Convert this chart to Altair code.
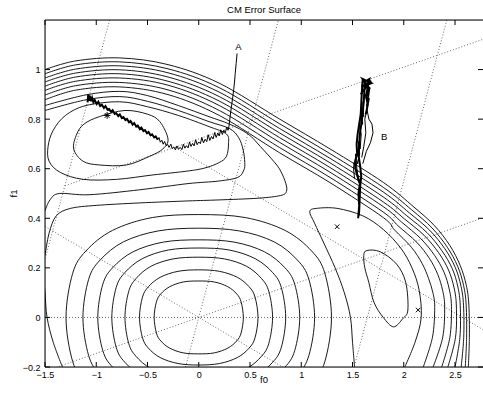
import altair as alt
import pandas as pd

# ---------------- text & axes ----------------
title_text = "CM Error Surface"
x_title = "f0"
y_title = "f1"
x_domain = [-1.5, 2.773]
y_domain = [-0.2, 1.2]
x_ticks = [-1.5, -1.0, -0.5, 0.0, 0.5, 1.0, 1.5, 2.0, 2.5]
y_ticks = [-0.2, 0.0, 0.2, 0.4, 0.6, 0.8, 1.0]

# ---------------- closed contours (f0, f1) ----------------
ring_r1 = [(0.435,0),(0.413,0.063),(0.37,0.095),(0.283,0.124),(0.152,0.143),(0,0.147),(-0.152,0.143),(-0.283,0.124),(-0.37,0.095),(-0.413,0.063),(-0.435,0),(-0.413,-0.063),(-0.37,-0.095),(-0.283,-0.124),(-0.152,-0.143),(0,-0.147),(0.152,-0.143),(0.283,-0.124),(0.37,-0.095),(0.413,-0.063)]
ring_r2 = [(0.578,0),(0.549,0.082),(0.491,0.124),(0.376,0.162),(0.202,0.186),(0,0.192),(-0.202,0.186),(-0.376,0.162),(-0.491,0.124),(-0.549,0.082),(-0.578,0),(-0.549,-0.082),(-0.491,-0.124),(-0.376,-0.162),(-0.202,-0.186),(0,-0.192),(0.202,-0.186),(0.376,-0.162),(0.491,-0.124),(0.549,-0.082)]
ring_r3 = [(0.72,0),(0.684,0.104),(0.612,0.157),(0.468,0.206),(0.252,0.236),(0,0.243),(-0.252,0.236),(-0.468,0.206),(-0.612,0.157),(-0.684,0.104),(-0.72,0),(-0.684,-0.104),(-0.612,-0.157),(-0.468,-0.206),(-0.252,-0.236),(0,-0.243),(0.252,-0.236),(0.468,-0.206),(0.612,-0.157),(0.684,-0.104)]
ring_r4 = [(0.848,0),(0.806,0.12),(0.721,0.181),(0.551,0.237),(0.297,0.272),(0,0.28),(-0.297,0.272),(-0.551,0.237),(-0.721,0.181),(-0.806,0.12),(-0.848,0),(-0.806,-0.12),(-0.721,-0.181),(-0.551,-0.237),(-0.297,-0.272),(0,-0.28),(0.297,-0.272),(0.551,-0.237),(0.721,-0.181),(0.806,-0.12)]
ring_r5 = [(0.985,0),(0.936,0.134),(0.837,0.202),(0.64,0.265),(0.345,0.304),(0,0.313),(-0.345,0.304),(-0.64,0.265),(-0.837,0.202),(-0.936,0.134),(-0.985,0),(-0.936,-0.134),(-0.837,-0.202),(-0.64,-0.265),(-0.345,-0.304),(0,-0.313),(0.345,-0.304),(0.64,-0.265),(0.837,-0.202),(0.936,-0.134)]
ring_r6 = [(1.13,0),(1.074,0.154),(0.961,0.232),(0.735,0.305),(0.396,0.349),(0,0.36),(-0.396,0.349),(-0.735,0.305),(-0.961,0.232),(-1.074,0.154),(-1.13,0),(-1.074,-0.154),(-0.961,-0.232),(-0.735,-0.305),(-0.396,-0.349),(0,-0.36),(0.396,-0.349),(0.735,-0.305),(0.961,-0.232),(1.074,-0.154)]
ring_r7 = [(1.295,0),(1.23,0.178),(1.101,0.268),(0.842,0.351),(0.453,0.403),(0,0.415),(-0.453,0.403),(-0.842,0.351),(-1.101,0.268),(-1.23,0.178),(-1.295,0),(-1.23,-0.178),(-1.101,-0.268),(-0.842,-0.351),(-0.453,-0.403),(0,-0.415),(0.453,-0.403),(0.842,-0.351),(1.101,-0.268),(1.23,-0.178)]
ring_m1 = [(-1.22,0.68),(-1.19,0.74),(-1.12,0.78),(-0.97,0.81),(-0.72,0.835),(-0.5,0.82),(-0.38,0.79),(-0.30,0.72),(-0.35,0.68),(-0.48,0.65),(-0.706,0.615),(-0.966,0.615),(-1.128,0.63)]
ring_m2 = [(-1.46,0.63),(-1.35,0.585),(-1.128,0.557),(-0.803,0.557),(-0.446,0.575),(-0.12,0.59),(0.06,0.603),(0.2,0.625),(0.27,0.65),(0.29,0.70),(0.27,0.74),(0.1,0.77),(-0.2,0.815),(-0.5,0.85),(-0.77,0.87),(-1.1,0.855),(-1.3,0.815),(-1.42,0.755),(-1.47,0.69)]
ring_rm = [(1.61,0.25),(1.64,0.27),(1.77,0.265),(1.93,0.215),(2.02,0.14),(2.04,0.03),(1.99,-0.005),(1.90,-0.038),(1.80,0.0),(1.71,0.06),(1.66,0.14),(1.62,0.2)]

# ---------------- open contours (f0, f1) ----------------
wall_l0 = [(-1.5,1.0),(-1.2,1.035),(-0.77,1.047),(-0.3,1.02),(0.2,0.945),(0.79,0.80),(1.28,0.68),(1.8,0.545),(2.1,0.445),(2.3,0.37),(2.45,0.29),(2.55,0.21),(2.61,0.13),(2.635,0.05),(2.64,-0.08),(2.63,-0.2)]
wall_l1 = [(-1.5,0.983),(-1.2,1.019),(-0.77,1.031),(-0.3,1.003),(0.2,0.927),(0.79,0.781),(1.28,0.661),(1.8,0.525),(2.077,0.434),(2.276,0.361),(2.425,0.283),(2.526,0.206),(2.584,0.128),(2.609,0.049),(2.613,-0.08),(2.60,-0.2)]
wall_l2 = [(-1.5,0.966),(-1.2,1.002),(-0.77,1.015),(-0.3,0.987),(0.2,0.909),(0.79,0.762),(1.28,0.642),(1.8,0.506),(2.054,0.422),(2.252,0.352),(2.401,0.277),(2.502,0.202),(2.559,0.125),(2.583,0.048),(2.585,-0.08),(2.56,-0.2)]
wall_l3 = [(-1.5,0.95),(-1.2,0.986),(-0.77,0.999),(-0.3,0.97),(0.2,0.891),(0.79,0.744),(1.28,0.624),(1.8,0.486),(2.03,0.41),(2.227,0.342),(2.372,0.269),(2.473,0.197),(2.528,0.123),(2.551,0.047),(2.548,-0.08),(2.50,-0.2)]
wall_l4 = [(-1.5,0.933),(-1.2,0.97),(-0.77,0.983),(-0.3,0.953),(0.2,0.873),(0.79,0.725),(1.28,0.605),(1.8,0.466),(2.005,0.398),(2.199,0.331),(2.34,0.261),(2.437,0.191),(2.491,0.119),(2.513,0.046),(2.505,-0.08),(2.43,-0.2)]
wall_l5 = [(-1.5,0.916),(-1.2,0.953),(-0.77,0.966),(-0.3,0.937),(0.2,0.855),(0.79,0.706),(1.28,0.586),(1.8,0.447),(1.978,0.385),(2.166,0.318),(2.301,0.25),(2.392,0.183),(2.443,0.115),(2.465,0.045),(2.45,-0.08),(2.37,-0.2)]
wall_l6 = [(-1.5,0.897),(-1.2,0.935),(-0.77,0.948),(-0.3,0.918),(0.2,0.835),(0.79,0.685),(1.28,0.565),(1.8,0.425),(1.946,0.369),(2.127,0.303),(2.252,0.237),(2.332,0.173),(2.379,0.109),(2.399,0.043),(2.38,-0.08),(2.286,-0.2)]
wall_l7 = [(-1.5,0.878),(-1.2,0.917),(-0.77,0.93),(-0.3,0.899),(0.2,0.815),(0.79,0.664),(1.28,0.544),(1.8,0.403),(1.912,0.352),(2.075,0.283),(2.18,0.217),(2.242,0.157),(2.284,0.1),(2.302,0.04),(2.28,-0.08),(2.19,-0.2)]
knee_l8 = [(-1.5,0.25),(-1.46,0.34),(-1.39,0.41),(-1.25,0.44),(-1.0,0.452),(-0.576,0.462),(-0.104,0.47),(0.189,0.474),(0.579,0.481),(0.80,0.492),(0.855,0.508),(0.85,0.54),(0.80,0.59),(0.741,0.625),(0.6,0.69),(0.481,0.74),(0.3,0.78),(0.1,0.81),(-0.2,0.855),(-0.5,0.895),(-0.77,0.912),(-1.1,0.898),(-1.5,0.855)]
band_l9 = [(-1.5,0.43),(-1.45,0.475),(-1.36,0.5),(-1.07,0.495),(-0.576,0.515),(-0.104,0.54),(0.19,0.55),(0.38,0.565),(0.44,0.595),(0.449,0.625),(0.433,0.676),(0.39,0.725),(0.30,0.762),(0.1,0.79),(-0.2,0.835),(-0.5,0.872),(-0.77,0.891),(-1.1,0.878),(-1.5,0.835)]
edge_l8 = [(-1.52,0.2),(-1.50,0.1),(-1.48,0.0),(-1.42,-0.1),(-1.33,-0.2)]
tip_l8 = [(1.52,-0.2),(1.50,-0.1),(1.48,0.0),(1.42,0.1),(1.33,0.2),(1.22,0.3),(1.13,0.38),(1.083,0.427),(1.15,0.44),(1.35,0.44),(1.6,0.41),(1.8,0.355),(1.97,0.28),(2.08,0.2),(2.15,0.11),(2.17,0.0),(2.11,-0.1),(2.01,-0.2)]

# ---------------- dotted guide lines (end points) ----------------
guide_h0 = [(-1.5,0.0),(2.78,0.0)]
guide_a0 = [(-1.5,0.3675),(2.78,-0.681)]
guide_a1 = [(-0.23,0.686),(2.78,-0.051)]
guide_b0 = [(-1.5,-0.2175),(2.78,0.403)]
guide_b1 = [(-1.305,0.531),(2.78,1.123)]
guide_c0 = [(-0.129,-0.2),(0.777,1.2)]
guide_c1 = [(-0.869,1.2),(-1.5,0.235)]
guide_c2 = [(2.42,1.2),(1.515,-0.2)]

# ---------------- adaptation trajectories ----------------
traj_a_thick = [(-1.085,0.868),(-1.078,0.9),(-1.07,0.874),(-1.062,0.895),(-1.05,0.872),(-1.04,0.886),(-1.028,0.868),(-1.015,0.877),(-0.995,0.861),(-0.98,0.87),(-0.962,0.853),(-0.945,0.858),(-0.925,0.845),(-0.91,0.853),(-0.89,0.838),(-0.875,0.841),(-0.855,0.829),(-0.84,0.836),(-0.82,0.821),(-0.805,0.824),(-0.785,0.812),(-0.77,0.819),(-0.75,0.804),(-0.735,0.808),(-0.715,0.796),(-0.7,0.801),(-0.68,0.787),(-0.665,0.792),(-0.645,0.778),(-0.63,0.784),(-0.61,0.77),(-0.595,0.774),(-0.575,0.76),(-0.56,0.766),(-0.54,0.752),(-0.525,0.756),(-0.505,0.743),(-0.49,0.748),(-0.47,0.735),(-0.455,0.739),(-0.435,0.726),(-0.42,0.73),(-0.40,0.717)]
traj_a_thin = [(-0.40,0.717),(-0.388,0.726),(-0.375,0.707),(-0.36,0.715),(-0.347,0.699),(-0.333,0.71),(-0.318,0.693),(-0.303,0.698),(-0.29,0.686),(-0.272,0.699),(-0.26,0.681),(-0.243,0.688),(-0.228,0.676),(-0.212,0.692),(-0.198,0.679),(-0.18,0.686),(-0.165,0.677),(-0.15,0.699),(-0.136,0.683),(-0.12,0.693),(-0.104,0.684),(-0.09,0.708),(-0.076,0.69),(-0.06,0.702),(-0.046,0.692),(-0.03,0.717),(-0.016,0.697),(0.0,0.708),(0.016,0.701),(0.03,0.726),(0.046,0.704),(0.062,0.719),(0.078,0.709),(0.092,0.737),(0.108,0.714),(0.124,0.73),(0.14,0.72),(0.155,0.746),(0.17,0.726),(0.186,0.744),(0.2,0.732),(0.214,0.757),(0.23,0.738),(0.245,0.755),(0.26,0.746),(0.272,0.768),(0.286,0.755),(0.295,0.772)]
traj_a_climb = [(0.295,0.772),(0.303,0.80),(0.312,0.83),(0.322,0.86),(0.332,0.89),(0.341,0.92),(0.349,0.95),(0.356,0.985),(0.365,1.025),(0.374,1.065)]
traj_b_spine = [(1.555,0.40),(1.565,0.45),(1.558,0.50),(1.572,0.54),(1.55,0.57),(1.53,0.60),(1.525,0.63),(1.545,0.66),(1.54,0.70),(1.55,0.74),(1.565,0.78),(1.58,0.82),(1.585,0.86),(1.59,0.90),(1.595,0.94),(1.60,0.96),(1.62,0.955),(1.615,0.91),(1.61,0.87),(1.60,0.83),(1.59,0.79),(1.575,0.75),(1.565,0.70),(1.56,0.65),(1.575,0.61),(1.585,0.57),(1.575,0.53),(1.57,0.48),(1.565,0.43),(1.56,0.41)]
traj_b_side = [(1.52,0.56),(1.51,0.60),(1.515,0.625),(1.535,0.585),(1.56,0.545),(1.54,0.61),(1.53,0.66),(1.55,0.62),(1.57,0.66),(1.555,0.71),(1.575,0.68),(1.585,0.74),(1.57,0.77),(1.6,0.78),(1.58,0.84),(1.61,0.81),(1.6,0.87)]
traj_b_top = [(1.58,0.90),(1.68,0.955),(1.59,0.93),(1.685,0.945),(1.6,0.962),(1.67,0.92),(1.615,0.95),(1.665,0.962),(1.63,0.89),(1.665,0.93),(1.64,0.85),(1.66,0.885),(1.63,0.82),(1.65,0.86),(1.625,0.9)]
traj_b_loop = [(1.60,0.62),(1.635,0.67),(1.675,0.705),(1.70,0.745),(1.69,0.78),(1.66,0.80),(1.64,0.84),(1.62,0.80),(1.63,0.745),(1.61,0.69),(1.59,0.645)]

star_pts = [(-0.894, 0.815)]
cross_pts = [(1.35, 0.366), (2.14, 0.03)]
label_names = ["A", "B"]
label_pos = [(0.387, 1.09), (1.808, 0.727)]

# ---------------- layout ----------------
W, H = 438, 347
TICK = 5
FONT = "Liberation Sans"


def frame(curves):
    rows = []
    for name, pts in curves.items():
        for i, (a, b) in enumerate(pts):
            rows.append({"cid": name, "ord": i, "f0": a, "f1": b})
    return pd.DataFrame(rows)


closed_df = frame({"r1": ring_r1, "r2": ring_r2, "r3": ring_r3, "r4": ring_r4, "r5": ring_r5,
                   "r6": ring_r6, "r7": ring_r7, "m1": ring_m1, "m2": ring_m2, "rm": ring_rm})
open_df = frame({"l0": wall_l0, "l1": wall_l1, "l2": wall_l2, "l3": wall_l3, "l4": wall_l4,
                 "l5": wall_l5, "l6": wall_l6, "l7": wall_l7, "k8": knee_l8, "b9": band_l9,
                 "e8": edge_l8, "t8": tip_l8})
guide_df = frame({"h0": guide_h0, "a0": guide_a0, "a1": guide_a1, "b0": guide_b0,
                  "b1": guide_b1, "c0": guide_c0, "c1": guide_c1, "c2": guide_c2})
thick_df = frame({"A1": traj_a_thick, "B1": traj_b_spine, "B3": traj_b_top})
thin_df = frame({"A2": traj_a_thin, "A3": traj_a_climb, "B2": traj_b_side, "B4": traj_b_loop})
star_df = pd.DataFrame(star_pts, columns=["f0", "f1"])
cross_df = pd.DataFrame(cross_pts, columns=["f0", "f1"])
label_df = pd.DataFrame({"t": label_names, "f0": [p[0] for p in label_pos], "f1": [p[1] for p in label_pos]})
xt_df = pd.DataFrame({"f0": x_ticks})
yt_df = pd.DataFrame({"f1": y_ticks})
one = pd.DataFrame({"k": [0]})

xs = alt.Scale(domain=x_domain, nice=False, zero=False)
ys = alt.Scale(domain=y_domain, nice=False, zero=False)

x_axis = alt.Axis(values=x_ticks, format="~g", ticks=False, domain=False, grid=False,
                  labelFont=FONT, labelFontSize=9, labelColor="black", labelPadding=3,
                  labelFlush=False, title=None)
y_axis = alt.Axis(values=y_ticks, format="~g", ticks=False, domain=False, grid=False,
                  labelFont=FONT, labelFontSize=9, labelColor="black", labelPadding=5,
                  labelFlush=False, title=None)

X = alt.X("f0:Q", scale=xs, axis=x_axis)
Y = alt.Y("f1:Q", scale=ys, axis=y_axis)

guides = alt.Chart(guide_df).mark_line(color="#444", strokeWidth=0.8, strokeDash=[1, 2], clip=True).encode(
    x=X, y=Y, detail="cid:N", order="ord:Q")

closed = alt.Chart(closed_df).mark_line(color="black", strokeWidth=0.9, interpolate="cardinal-closed", clip=True).encode(
    x=X, y=Y, detail="cid:N", order="ord:Q")

opened = alt.Chart(open_df).mark_line(color="black", strokeWidth=0.9, interpolate="cardinal", clip=True).encode(
    x=X, y=Y, detail="cid:N", order="ord:Q")

thick = alt.Chart(thick_df).mark_line(color="black", strokeWidth=2.0, clip=True).encode(
    x=X, y=Y, detail="cid:N", order="ord:Q")

thin = alt.Chart(thin_df).mark_line(color="black", strokeWidth=1.0, clip=True).encode(
    x=X, y=Y, detail="cid:N", order="ord:Q")

star = alt.Chart(star_df).mark_point(
    shape="M-1,0L1,0M0,-1L0,1M-0.7,-0.7L0.7,0.7M-0.7,0.7L0.7,-0.7",
    size=45, filled=False, color="black", strokeWidth=1, opacity=1).encode(x=X, y=Y)

cross = alt.Chart(cross_df).mark_point(
    shape="M-1,-1L1,1M-1,1L1,-1", size=20, filled=False, color="black", strokeWidth=1, opacity=1).encode(x=X, y=Y)

labels = alt.Chart(label_df).mark_text(font=FONT, fontSize=9.5, color="black", baseline="middle", align="center").encode(
    x=X, y=Y, text="t:N")

# frame (left, top, bottom) and inward ticks
frame_lines = alt.layer(
    alt.Chart(one).mark_rule(color="black", strokeWidth=1).encode(x=alt.value(0), x2=alt.value(W), y=alt.value(0)),
    alt.Chart(one).mark_rule(color="black", strokeWidth=1).encode(x=alt.value(0), x2=alt.value(W), y=alt.value(H)),
    alt.Chart(one).mark_rule(color="black", strokeWidth=1).encode(x=alt.value(0), y=alt.value(0), y2=alt.value(H)),
)
ticks = alt.layer(
    alt.Chart(xt_df).mark_rule(color="black", strokeWidth=1).encode(x=X, y=alt.value(H), y2=alt.value(H - TICK)),
    alt.Chart(xt_df).mark_rule(color="black", strokeWidth=1).encode(x=X, y=alt.value(0), y2=alt.value(TICK)),
    alt.Chart(yt_df).mark_rule(color="black", strokeWidth=1).encode(y=Y, x=alt.value(0), x2=alt.value(TICK)),
    alt.Chart(yt_df).mark_rule(color="black", strokeWidth=1).encode(y=Y, x=alt.value(W - TICK), x2=alt.value(W)),
)

axis_titles = alt.layer(
    alt.Chart(one).mark_text(font=FONT, fontSize=9.5, color="black", baseline="middle", align="center").encode(
        x=alt.value(W / 2), y=alt.value(H + 12.5), text=alt.value(x_title)),
    alt.Chart(one).mark_text(font=FONT, fontSize=9.5, color="black", baseline="middle", align="center", angle=270).encode(
        x=alt.value(-31), y=alt.value(H / 2), text=alt.value(y_title)),
)

chart = alt.layer(guides, closed, opened, thin, thick, star, cross, labels, frame_lines, ticks, axis_titles).properties(
    width=W, height=H,
    title=alt.TitleParams(text=title_text, font=FONT, fontSize=9.5, fontWeight="normal", color="black",
                          anchor="middle", offset=5),
    autosize=alt.AutoSizeParams(type="none"),
    padding={"left": 45, "top": 20, "right": 0, "bottom": 29},
).configure_view(stroke=None).configure(background="white")

chart.save("out.html", embed_options={"renderer": "svg", "actions": False})
